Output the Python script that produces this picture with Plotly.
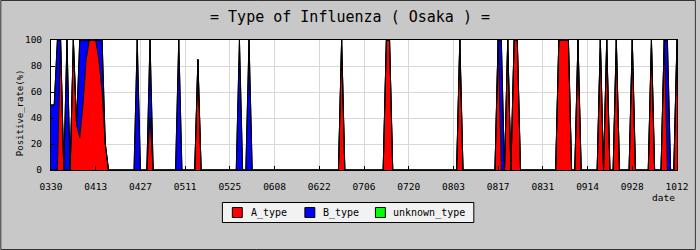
import pandas as pd
import plotly.graph_objects as go

# ---- data (daily positive rate, %, days not listed are 0) ----
start_date = "2010-03-30"
end_date = "2010-10-12"

a_dates = ["2010-04-02", "2010-04-06", "2010-04-07", "2010-04-08", "2010-04-09",
           "2010-04-10", "2010-04-11", "2010-04-12", "2010-04-13", "2010-04-14",
           "2010-04-15", "2010-04-16", "2010-04-30", "2010-05-15", "2010-06-29",
           "2010-07-13", "2010-07-14", "2010-08-05", "2010-08-17",
           "2010-08-20", "2010-08-22", "2010-08-23", "2010-09-05", "2010-09-06",
           "2010-09-07", "2010-09-08", "2010-09-11", "2010-09-18", "2010-09-20",
           "2010-09-23", "2010-09-28", "2010-10-04", "2010-10-08", "2010-10-12"]
a_values = [100, 100, 35, 25, 50,
            85, 100, 100, 100, 85,
            60, 20, 40, 85, 100,
            100, 100, 100, 100,
            100, 100, 100, 100, 100,
            100, 100, 100, 100, 100,
            100, 100, 100, 100, 100]

b_dates = ["2010-03-30", "2010-03-31", "2010-04-01", "2010-04-04", "2010-04-08",
           "2010-04-09", "2010-04-10", "2010-04-14", "2010-04-15", "2010-04-26",
           "2010-04-30", "2010-05-09", "2010-05-28", "2010-05-31",
           "2010-08-18", "2010-10-09"]
b_values = [50, 50, 100, 100, 75,
            50, 15, 15, 40, 100,
            60, 100, 100, 100,
            100, 100]

u_dates = []
u_values = []

x_tick_labels = ["0330", "0413", "0427", "0511", "0525", "0608", "0622",
                 "0706", "0720", "0803", "0817", "0831", "0914", "0928", "1012"]

series_names = ["A_type", "B_type", "unknown_type"]
series_colors = ["#ff0000", "#0000ff", "#00ff00"]

# ---- build daily series ----
days = pd.date_range(start_date, end_date, freq="D")


def daily(dates, values):
    s = pd.Series(0.0, index=days)
    for d, v in zip(dates, values):
        s[pd.Timestamp(d)] = v
    return s.values


ys = [daily(a_dates, a_values), daily(b_dates, b_values), daily(u_dates, u_values)]

fig = go.Figure()
for name, color, y in zip(series_names, series_colors, ys):
    fig.add_trace(go.Scatter(
        x=days, y=y, name=name, stackgroup="one", mode="lines",
        line=dict(color="black", width=1, shape="linear"),
        fillcolor=color, showlegend=False, hoverinfo="skip"))

W, H = 700, 250
L, R, T, B = 51, 19, 40, 80
pw, ph = W - L - R, H - T - B
mono = "DejaVu Sans Mono"


def px(x):
    return (x - L) / pw


def py(y):
    return (T + ph - y) / ph


tickvals = [pd.Timestamp(start_date) + pd.Timedelta(days=14 * i) for i in range(len(x_tick_labels))]

# ---- hand-made legend box (layout decoration) ----
shapes = [
    dict(type="rect", xref="paper", yref="paper",
         x0=(-L + 0.5) / pw, x1=1 + (R - 0.5) / pw,
         y0=(-B + 0.5) / ph, y1=1 + (T - 0.5) / ph,
         line=dict(color="#333333", width=1), layer="above"),
    dict(type="rect", xref="paper", yref="paper",
         x0=px(223.5), x1=px(476.5), y0=py(202.5), y1=py(222.5),
         fillcolor="#f2f2f2", line=dict(color="black", width=1), layer="above"),
]
annotations = [
    dict(text="Positive_rate(%)", xref="paper", yref="paper",
         x=px(20), y=py(113), xanchor="center", yanchor="middle",
         textangle=-90, showarrow=False,
         font=dict(family=mono, size=9, color="black")),
    dict(text="date", xref="paper", yref="paper",
         x=1, y=py(197), xanchor="right", yanchor="middle",
         showarrow=False, font=dict(family=mono, size=9.5, color="black")),
]
legend_sq_x = [233.5, 306.5, 377.5]
legend_txt_x = [250.5, 322.5, 393.5]
for name, color, sx, tx in zip(series_names, series_colors, legend_sq_x, legend_txt_x):
    shapes.append(dict(type="rect", xref="paper", yref="paper",
                       x0=px(sx), x1=px(sx + 10), y0=py(207.5), y1=py(217.5),
                       fillcolor=color, line=dict(color="black", width=1), layer="above"))
    annotations.append(dict(text=name, xref="paper", yref="paper",
                            x=px(tx), y=py(212.5), xanchor="left", yanchor="middle",
                            showarrow=False,
                            font=dict(family=mono, size=10, color="black")))

fig.update_layout(
    width=W, height=H,
    margin=dict(l=L, r=R, t=T, b=B, pad=0),
    paper_bgcolor="#c8c8c8",
    plot_bgcolor="#ffffff",
    title=dict(text="= Type of Influenza ( Osaka ) =", x=0.5, xanchor="center",
               yref="container", y=1 - 16.5 / H, yanchor="middle",
               font=dict(family=mono, size=15, color="black")),
    showlegend=False,
    xaxis=dict(
        range=[pd.Timestamp(start_date), pd.Timestamp(end_date)],
        tickmode="array", tickvals=tickvals, ticktext=x_tick_labels,
        ticks="inside", ticklen=4, tickcolor="black",
        showgrid=True, gridcolor="#d8d8d8", gridwidth=1,
        showline=True, linecolor="black", linewidth=1, mirror=True,
        zeroline=False, ticklabelstandoff=8,
        tickfont=dict(family=mono, size=9.5, color="black")),
    yaxis=dict(
        range=[0, 100], tickmode="array", tickvals=[0, 20, 40, 60, 80, 100],
        ticks="inside", ticklen=4, tickcolor="black",
        showgrid=True, gridcolor="#d8d8d8", gridwidth=1,
        showline=True, linecolor="black", linewidth=1, mirror=True,
        zeroline=False, ticklabelstandoff=6,
        tickfont=dict(family=mono, size=9.5, color="black")),
    annotations=annotations,
    shapes=shapes,
)

fig.write_html("out.html")
